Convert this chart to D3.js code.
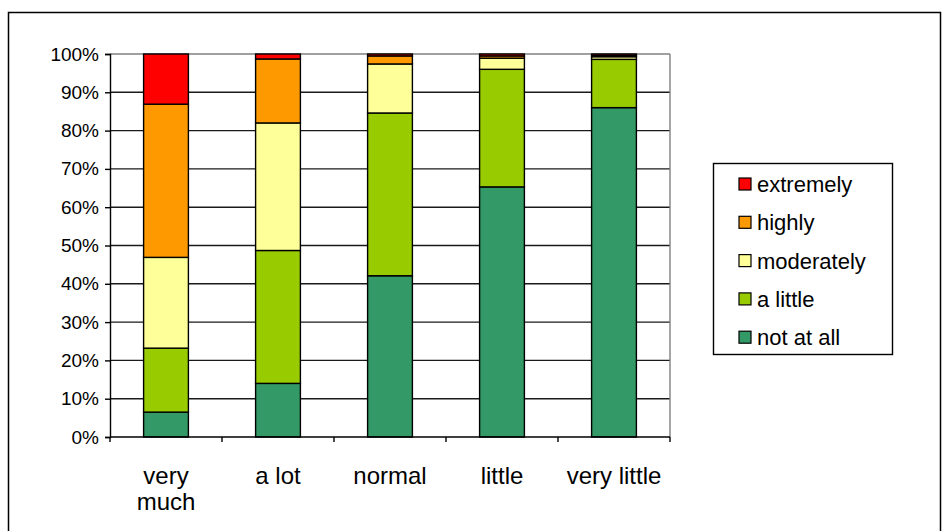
<!DOCTYPE html>
<html>
<head>
<meta charset="utf-8">
<script src="https://cdn.jsdelivr.net/npm/d3@7"></script>
<style>
  html, body { margin: 0; padding: 0; background: #fff; }
  svg { display: block; font-family: "Liberation Sans", Arial, sans-serif; }
</style>
</head>
<body>
<svg id="chart" width="946" height="531"></svg>
<script>
// Answer categories (x axis)
const categories = ["very much", "a lot", "normal", "little", "very little"];

// Response levels, stacked bottom to top
const seriesNames = ["not at all", "a little", "moderately", "highly", "extremely"];
const seriesColors = ["#339966", "#99CC00", "#FFFF99", "#FF9900", "#FF0000"];

// Share of answers (%) per level, one value per category
const notAtAll   = [6.5, 14.0, 42.1, 65.3, 86.0];
const aLittle    = [16.7, 34.7, 42.5, 30.7, 12.6];
const moderately = [23.7, 33.3, 12.8, 2.9, 0.7];
const highly     = [40.0, 16.7, 2.1, 0.6, 0.3];
const extremely  = [13.1, 1.3, 0.5, 0.5, 0.4];

const yTicks = [0, 10, 20, 30, 40, 50, 60, 70, 80, 90, 100];

const seriesValues = [notAtAll, aLittle, moderately, highly, extremely];

const rows = categories.map((c, i) => {
  const r = { category: c };
  seriesNames.forEach((s, k) => { r[s] = seriesValues[k][i]; });
  return r;
});

const svg = d3.select("#chart");

// outer chart frame
svg.append("rect")
  .attr("x", 8.5).attr("y", 12.5)
  .attr("width", 932).attr("height", 540)
  .attr("fill", "#fff").attr("stroke", "#000").attr("stroke-width", 1.5);

const plot = { left: 110, right: 670, top: 54, bottom: 437 };

const x = d3.scaleBand().domain(categories)
  .range([plot.left, plot.right]).paddingInner(0.6).paddingOuter(0.3);
const xEdges = d3.scaleLinear().domain([0, categories.length]).range([plot.left, plot.right]);
const y = d3.scaleLinear().domain([0, 100]).range([plot.bottom, plot.top]);

// gridlines
svg.append("g").selectAll("line")
  .data(yTicks.filter(t => t > 0))
  .join("line")
  .attr("x1", plot.left).attr("x2", plot.right)
  .attr("y1", d => y(d)).attr("y2", d => y(d))
  .attr("stroke", d => d === 100 ? "#808080" : "#1a1a1a")
  .attr("stroke-width", 1.4);

// plot-area right border
svg.append("line")
  .attr("x1", plot.right).attr("x2", plot.right)
  .attr("y1", plot.top).attr("y2", plot.bottom)
  .attr("stroke", "#808080").attr("stroke-width", 1.4);

// stacked bars
const stack = d3.stack().keys(seriesNames)(rows);
svg.append("g").selectAll("g")
  .data(stack)
  .join("g")
  .attr("fill", (d, i) => seriesColors[i])
  .selectAll("rect")
  .data(d => d)
  .join("rect")
  .attr("x", d => x(d.data.category))
  .attr("width", x.bandwidth())
  .attr("y", d => y(d[1]))
  .attr("height", d => y(d[0]) - y(d[1]))
  .attr("stroke", "#000").attr("stroke-width", 1.4);

// y axis
const yAxis = d3.axisLeft(y).tickValues(yTicks)
  .tickFormat(d => d + "%").tickSize(5).tickPadding(6);
const gy = svg.append("g").attr("transform", `translate(${plot.left},0)`).call(yAxis);
gy.select(".domain").attr("stroke", "#000").attr("stroke-width", 1.4);
gy.selectAll(".tick line").attr("stroke", "#000").attr("stroke-width", 1.4);
gy.selectAll(".tick text")
  .attr("font-family", "Liberation Sans, Arial, sans-serif")
  .attr("font-size", 19).attr("fill", "#000");

// x axis: tick marks at category boundaries
const gx = svg.append("g").attr("transform", `translate(0,${plot.bottom})`);
gx.append("line").attr("x1", plot.left).attr("x2", plot.right)
  .attr("stroke", "#000").attr("stroke-width", 1.4);
gx.selectAll("line.edge")
  .data(d3.range(categories.length + 1))
  .join("line").attr("class", "edge")
  .attr("x1", d => xEdges(d)).attr("x2", d => xEdges(d))
  .attr("y1", 0).attr("y2", 5)
  .attr("stroke", "#000").attr("stroke-width", 1.4);

// category labels, wrapped like the original two-line "very much"
const catLines = { "very much": ["very", "much"] };
const labels = svg.append("g").selectAll("text")
  .data(categories)
  .join("text")
  .attr("x", d => x(d) + x.bandwidth() / 2)
  .attr("y", 484)
  .attr("text-anchor", "middle")
  .attr("font-size", 24)
  .attr("fill", "#000");
labels.each(function (d) {
  const lines = catLines[d] || [d];
  d3.select(this).selectAll("tspan")
    .data(lines).join("tspan")
    .attr("x", x(d) + x.bandwidth() / 2)
    .attr("dy", (l, i) => i === 0 ? 0 : 26)
    .text(l => l);
});

// legend (top entry = top of stack)
const legend = svg.append("g");
legend.append("rect")
  .attr("x", 713.5).attr("y", 163.5).attr("width", 179).attr("height", 191)
  .attr("fill", "#fff").attr("stroke", "#000").attr("stroke-width", 1.4);
const legendOrder = seriesNames.map((s, i) => i).reverse();
const item = legend.selectAll("g.item")
  .data(legendOrder)
  .join("g").attr("class", "item")
  .attr("transform", (d, i) => `translate(739,${178 + i * 38.3})`);
item.append("rect")
  .attr("width", 12).attr("height", 12)
  .attr("fill", d => seriesColors[d])
  .attr("stroke", "#000").attr("stroke-width", 1.2);
item.append("text")
  .attr("x", 18).attr("y", 14)
  .attr("font-size", 22).attr("fill", "#000")
  .text(d => seriesNames[d]);
</script>
</body>
</html>
